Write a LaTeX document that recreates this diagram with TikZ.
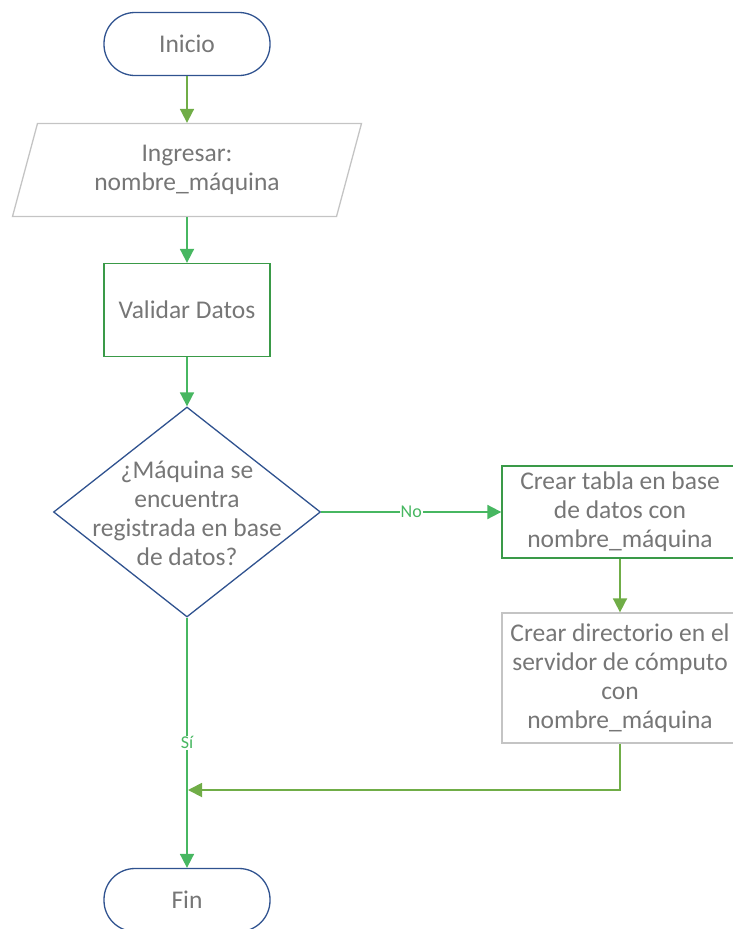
\documentclass[tikz,border=0pt]{standalone}
\usepackage{fontspec}
\setmainfont{Carlito}
\usetikzlibrary{shapes.geometric,arrows.meta}

\definecolor{txtgray}{HTML}{767676}
\definecolor{termblue}{HTML}{2F528F}
\definecolor{boxgreen}{HTML}{3A9A48}
\definecolor{flowgreen}{HTML}{47B761}
\definecolor{olivegreen}{HTML}{70AD47}
\definecolor{lightgray}{HTML}{C4C4C4}

\tikzset{
  base/.style={text=txtgray, font=\fontsize{25.5}{29}\selectfont, align=center, inner sep=0pt},
  terminal/.style={base, draw=termblue, line width=1.3pt, rounded corners=31pt,
    minimum width=166pt, minimum height=63pt},
  inputbox/.style={base, draw=lightgray, line width=1.3pt, trapezium, trapezium left angle=63.2,
    trapezium right angle=116.8, trapezium stretches body, minimum width=349pt, minimum height=93pt},
  process/.style={base, draw=boxgreen, line width=1.3pt, minimum width=166pt, minimum height=93pt},
  grayprocess/.style={base, draw=lightgray, line width=1.3pt, minimum width=236pt, minimum height=130pt},
  decision/.style={draw=termblue, line width=1.3pt, diamond, inner sep=0pt,
    minimum width=267pt, minimum height=210pt},
  flow/.style={draw=flowgreen, line width=1.8pt, -{Triangle[length=14pt,width=14pt]}},
  oliveflow/.style={flow, draw=olivegreen},
  answer/.style={text=flowgreen, font=\fontsize{18}{20}\selectfont, fill=white, inner sep=1pt}
}

\begin{document}
\begin{tikzpicture}[x=1pt,y=-1pt]
  \useasboundingbox (0,0) rectangle (732,929);

  % Nodes
  \node[terminal] (inicio) at (187,44) {Inicio};
  \node[inputbox] (ingresar) at (187,170) {Ingresar:\\nombre\_máquina};
  \node[process] (validar) at (187,310) {Validar Datos};
  \node[decision] (check) at (187,512) {};
  \node[base] (checktext) at (187,513) {¿Máquina se\\encuentra\\registrada en base\\de datos?};
  \node[process, minimum width=236pt, minimum height=92pt] (tabla) at (620,512)
    {Crear tabla en base\\de datos con\\nombre\_máquina};
  \node[grayprocess] (directorio) at (620,678)
    {Crear directorio en el\\servidor de cómputo\\con\\nombre\_máquina};
  \node[terminal] (fin) at (187,900) {Fin};
  \coordinate (join) at (188,790);

  % Connectors
  \draw[oliveflow] (inicio) -- (ingresar);
  \draw[flow] (ingresar) -- (validar);
  \draw[flow] (validar) -- (check);
  \draw[flow] (check.east) -- node[answer] {No} (tabla.west);
  \draw[oliveflow] (tabla) -- (directorio);
  \draw[oliveflow] (directorio.south) |- (join);
  \draw[flow] (check.south) -- node[answer] {Sí} (fin.north);
\end{tikzpicture}
\end{document}
